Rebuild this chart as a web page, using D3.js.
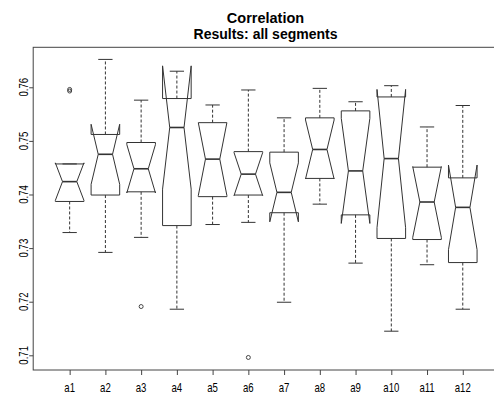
<!DOCTYPE html>
<html>
<head>
<meta charset="utf-8">
<script src="https://cdn.jsdelivr.net/npm/d3@7"></script>
<style>
  body { margin: 0; background: #fff; }
  svg { display: block; }
  text { font-family: "Liberation Sans", Arial, sans-serif; fill: #000; }
</style>
</head>
<body>
<div id="chart"></div>
<script>
// values
const categories = ["a1","a2","a3","a4","a5","a6","a7","a8","a9","a10","a11","a12"];
const whiskerLow  = [0.7329,0.7292,0.7320,0.7186,0.7344,0.7348,0.7199,0.7382,0.7272,0.7145,0.7269,0.7186];
const q1          = [0.7387,0.7399,0.7405,0.7342,0.7396,0.7399,0.7366,0.7430,0.7362,0.7318,0.7316,0.7273];
const medians     = [0.7424,0.7475,0.7448,0.7525,0.7466,0.7438,0.7404,0.7484,0.7444,0.7467,0.7386,0.7376];
const q3          = [0.7457,0.7512,0.7497,0.7579,0.7534,0.7480,0.7479,0.7543,0.7556,0.7582,0.7451,0.7431];
const whiskerHigh = [0.7457,0.7652,0.7576,0.7630,0.7567,0.7595,0.7543,0.7598,0.7573,0.7603,0.7526,0.7566];
const notchHalf   = [0.0035,0.0056,0.0045,0.0115,0.0068,0.0040,0.0055,0.0055,0.0098,0.0129,0.0066,0.0079];
const outliers = [
  { cat: "a1", value: 0.7596 },
  { cat: "a1", value: 0.7593 },
  { cat: "a3", value: 0.7191 },
  { cat: "a6", value: 0.7096 }
];
const yTicks = [0.71, 0.72, 0.73, 0.74, 0.75, 0.76];

const W = 494, H = 394;
const plotLeft = 33.2, plotRight = 497.8, plotTop = 47.3, plotBottom = 370;

let x = d3.scaleLinear().domain([-0.02, 12.98]).range([plotLeft, plotRight]);
let y = d3.scaleLinear().domain([0.70726, 0.76746]).range([plotBottom, plotTop]);

let boxes = categories.map((c, i) => ({
  cat: c, pos: i + 1,
  lo: whiskerLow[i], q1: q1[i], med: medians[i], q3: q3[i], hi: whiskerHigh[i],
  nlo: medians[i] - notchHalf[i], nhi: medians[i] + notchHalf[i]
}));

let wid = (x(1.4) - x(1)); // boxwex 0.8 -> half width
let stroke = "#333";

let svg = d3.select("#chart").append("svg").attr("width", W).attr("height", H);

// title, two lines
svg.append("text").attr("x", (plotLeft + plotRight) / 2).attr("y", 23)
  .attr("text-anchor", "middle").style("font-weight", "bold").style("font-size", "14.5px")
  .text("Correlation");
svg.append("text").attr("x", (plotLeft + plotRight) / 2).attr("y", 39)
  .attr("text-anchor", "middle").style("font-weight", "bold").style("font-size", "14px")
  .text("Results: all segments");

// frame
svg.append("rect").attr("x", plotLeft).attr("y", plotTop)
  .attr("width", plotRight - plotLeft).attr("height", plotBottom - plotTop)
  .attr("fill", "none").attr("stroke", "#444").attr("stroke-width", 1);

// y axis
let yAxis = svg.append("g").attr("transform", "translate(" + plotLeft + ",0)")
  .call(d3.axisLeft(y).tickValues(yTicks).tickSize(4).tickFormat(""));
yAxis.select(".domain").remove();
yAxis.selectAll("line").attr("stroke", "#444");
svg.append("g").selectAll("text").data(yTicks).enter().append("text")
  .attr("transform", d => "translate(28," + y(d) + ") rotate(-90) scale(0.8,1)")
  .attr("text-anchor", "middle").style("font-size", "12px")
  .text(d3.format(".2f"));

// x axis
let xAxis = svg.append("g").attr("transform", "translate(0," + plotBottom + ")")
  .call(d3.axisBottom(x).tickValues(d3.range(1, categories.length + 1)).tickSize(5).tickFormat(""));
xAxis.select(".domain").remove();
xAxis.selectAll("line").attr("stroke", "#444");
svg.append("g").selectAll("text").data(boxes).enter().append("text")
  .attr("transform", d => "translate(" + x(d.pos) + ",392) scale(0.8,1)")
  .attr("text-anchor", "middle").style("font-size", "12px")
  .text(d => d.cat);

// boxes
let g = svg.append("g").selectAll("g").data(boxes).enter().append("g");

// whiskers
g.append("line").attr("x1", d => x(d.pos)).attr("x2", d => x(d.pos))
  .attr("y1", d => y(d.q1)).attr("y2", d => y(d.lo))
  .attr("stroke", stroke).attr("stroke-dasharray", "3,2");
g.append("line").attr("x1", d => x(d.pos)).attr("x2", d => x(d.pos))
  .attr("y1", d => y(d.q3)).attr("y2", d => y(d.hi))
  .attr("stroke", stroke).attr("stroke-dasharray", "3,2");
// staples
g.append("line").attr("x1", d => x(d.pos) - wid / 2).attr("x2", d => x(d.pos) + wid / 2)
  .attr("y1", d => y(d.lo)).attr("y2", d => y(d.lo)).attr("stroke", stroke);
g.append("line").attr("x1", d => x(d.pos) - wid / 2).attr("x2", d => x(d.pos) + wid / 2)
  .attr("y1", d => y(d.hi)).attr("y2", d => y(d.hi)).attr("stroke", stroke);

// notched box outline
g.append("path")
  .attr("d", d => {
    let c = x(d.pos);
    let pts = [
      [c - wid, y(d.q1)], [c - wid, y(d.nlo)], [c - wid / 2, y(d.med)],
      [c - wid, y(d.nhi)], [c - wid, y(d.q3)], [c + wid, y(d.q3)],
      [c + wid, y(d.nhi)], [c + wid / 2, y(d.med)], [c + wid, y(d.nlo)],
      [c + wid, y(d.q1)]
    ];
    return d3.line()(pts) + "Z";
  })
  .attr("fill", "none").attr("stroke", stroke).attr("stroke-width", 1);

// median
g.append("line").attr("x1", d => x(d.pos) - wid / 2).attr("x2", d => x(d.pos) + wid / 2)
  .attr("y1", d => y(d.med)).attr("y2", d => y(d.med))
  .attr("stroke", stroke).attr("stroke-width", 1.6);

// outliers
let catPos = {};
categories.forEach((c, i) => catPos[c] = i + 1);
svg.append("g").selectAll("circle").data(outliers).enter().append("circle")
  .attr("cx", d => x(catPos[d.cat])).attr("cy", d => y(d.value)).attr("r", 2)
  .attr("fill", "none").attr("stroke", stroke).attr("stroke-width", 0.9);
</script>
</body>
</html>
